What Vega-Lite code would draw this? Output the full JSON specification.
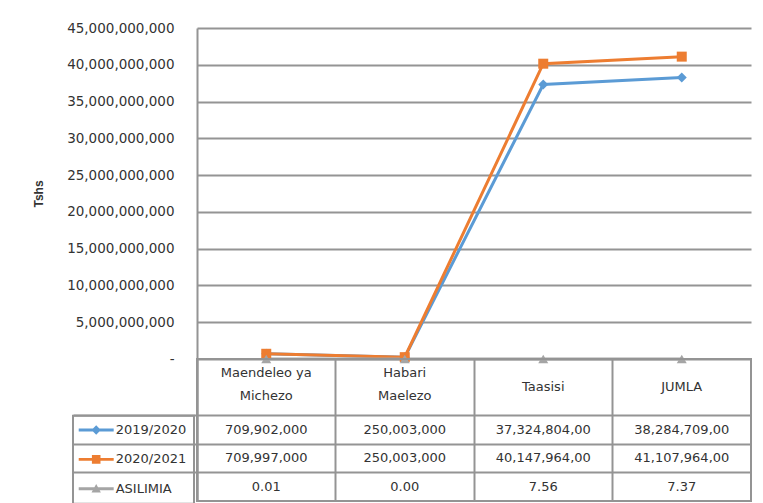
{
  "$schema": "https://vega.github.io/schema/vega-lite/v6.json",
  "padding": {"left": 32, "top": 21, "right": 10, "bottom": 2},
  "background": "white",
  "config": {
    "view": {"stroke": null},
    "font": "DejaVu Sans",
    "legend": {"strokeColor": "#949494", "strokeWidth": 2}
  },
  "datasets": {
    "values": [
      {"category": "Maendeleo ya Michezo", "series": "2019/2020", "value": 709902000, "label": "709,902,000"},
      {"category": "Habari Maelezo", "series": "2019/2020", "value": 250003000, "label": "250,003,000"},
      {"category": "Taasisi", "series": "2019/2020", "value": 37324804000, "label": "37,324,804,00"},
      {"category": "JUMLA", "series": "2019/2020", "value": 38284709000, "label": "38,284,709,00"},
      {"category": "Maendeleo ya Michezo", "series": "2020/2021", "value": 709997000, "label": "709,997,000"},
      {"category": "Habari Maelezo", "series": "2020/2021", "value": 250003000, "label": "250,003,000"},
      {"category": "Taasisi", "series": "2020/2021", "value": 40147964000, "label": "40,147,964,00"},
      {"category": "JUMLA", "series": "2020/2021", "value": 41107964000, "label": "41,107,964,00"},
      {"category": "Maendeleo ya Michezo", "series": "ASILIMIA", "value": 0.01, "label": "0.01"},
      {"category": "Habari Maelezo", "series": "ASILIMIA", "value": 0.0, "label": "0.00"},
      {"category": "Taasisi", "series": "ASILIMIA", "value": 7.56, "label": "7.56"},
      {"category": "JUMLA", "series": "ASILIMIA", "value": 7.37, "label": "7.37"}
    ],
    "headers": [
      {"category": "Maendeleo ya Michezo", "series": "header", "label": "Maendeleo ya\nMichezo"},
      {"category": "Habari Maelezo", "series": "header", "label": "Habari\nMaelezo"},
      {"category": "Taasisi", "series": "header", "label": "Taasisi"},
      {"category": "JUMLA", "series": "header", "label": "JUMLA"}
    ]
  },
  "spacing": 0,
  "bounds": "flush",
  "vconcat": [
    {
      "width": 554,
      "height": 331,
      "data": {"name": "values"},
      "layer": [
        {
          "mark": {"type": "line", "strokeWidth": 3},
          "encoding": {
            "x": {"field": "category", "type": "nominal", "sort": ["Maendeleo ya Michezo", "Habari Maelezo", "Taasisi", "JUMLA"], "scale": {"type": "point", "padding": 0.5}, "axis": null},
            "y": {
              "field": "value", "type": "quantitative",
              "scale": {"domain": [0, 45000000000], "nice": false, "zero": true},
              "axis": {
                "title": "Tshs", "titleFont": "Liberation Sans", "titleFontWeight": "bold", "titleFontSize": 12, "titlePadding": 21, "titleColor": "#333",
                "values": [0, 5000000000, 10000000000, 15000000000, 20000000000, 25000000000, 30000000000, 35000000000, 40000000000, 45000000000],
                "tickCount": 12,
                "labelExpr": "datum.value == 0 ? '-\u00a0\u00a0' : format(datum.value, ',')",
                "labelOverlap": false,
                "labelFont": "DejaVu Sans", "labelFontSize": 13.5, "labelColor": "#333", "labelPadding": 23,
                "ticks": false, "domain": true, "domainColor": "#949494", "domainWidth": 2,
                "grid": true, "gridColor": "#949494", "gridWidth": 2
              }
            },
            "color": {"field": "series", "type": "nominal", "scale": {"domain": ["2019/2020", "2020/2021", "ASILIMIA"], "range": ["#5B9BD5", "#ED7D31", "#A5A5A5"]}, "legend": null}
          }
        },
        {
          "mark": {"type": "point", "filled": true, "opacity": 1, "size": 100},
          "encoding": {
            "x": {"field": "category", "type": "nominal", "sort": ["Maendeleo ya Michezo", "Habari Maelezo", "Taasisi", "JUMLA"]},
            "y": {"field": "value", "type": "quantitative"},
            "color": {"field": "series", "type": "nominal", "legend": null},
            "shape": {"field": "series", "type": "nominal", "scale": {"domain": ["2019/2020", "2020/2021", "ASILIMIA"], "range": ["diamond", "square", "triangle-up"]}, "legend": null}
          }
        }
      ]
    },
    {
      "width": 554,
      "height": 142,
      "view": {"stroke": "#949494", "strokeWidth": 2},
      "layer": [
        {
          "data": {"name": "headers"},
          "transform": [{"filter": "indexof(datum.label, '\\n') >= 0"}],
          "mark": {"type": "text", "lineBreak": "\n", "lineHeight": 23, "font": "DejaVu Sans", "fontSize": 13, "color": "#333", "align": "center", "baseline": "middle"},
          "encoding": {
            "x": {
              "field": "category", "type": "nominal", "sort": ["Maendeleo ya Michezo", "Habari Maelezo", "Taasisi", "JUMLA"],
              "scale": {"type": "band", "paddingInner": 0, "paddingOuter": 0},
              "axis": {"bandPosition": 0, "grid": true, "gridColor": "#949494", "gridWidth": 2, "ticks": false, "labels": false, "domain": false, "title": null}
            },
            "y": {
              "field": "series", "type": "nominal",
              "scale": {"type": "band", "domain": ["header", "header-2", "2019/2020", "2020/2021", "ASILIMIA"], "paddingInner": 0, "paddingOuter": 0},
              "axis": {"values": ["2019/2020", "2020/2021", "ASILIMIA"], "bandPosition": 0, "grid": true, "gridColor": "#949494", "gridWidth": 2, "ticks": true, "tickSize": 124, "tickColor": "#949494", "tickWidth": 2, "labels": false, "domain": true, "domainColor": "#949494", "domainWidth": 2, "title": null}
            },
            "text": {"field": "label", "type": "nominal"}
          }
        },
        {
          "data": {"name": "headers"},
          "transform": [{"filter": "indexof(datum.label, '\\n') < 0"}],
          "mark": {"type": "text", "font": "DejaVu Sans", "fontSize": 13, "color": "#333", "align": "center", "baseline": "middle"},
          "encoding": {
            "x": {"field": "category", "type": "nominal", "sort": ["Maendeleo ya Michezo", "Habari Maelezo", "Taasisi", "JUMLA"]},
            "y": {"field": "series", "type": "nominal", "bandPosition": 1},
            "text": {"field": "label", "type": "nominal"}
          }
        },
        {
          "data": {"name": "values"},
          "mark": {"type": "text", "font": "DejaVu Sans", "fontSize": 13, "color": "#333", "align": "center", "baseline": "middle"},
          "encoding": {
            "x": {"field": "category", "type": "nominal", "sort": ["Maendeleo ya Michezo", "Habari Maelezo", "Taasisi", "JUMLA"]},
            "y": {"field": "series", "type": "nominal"},
            "text": {"field": "label", "type": "nominal"}
          }
        },
        {
          "data": {"name": "values"},
          "mark": {"type": "point", "filled": true, "opacity": 0},
          "encoding": {
            "x": {"field": "category", "type": "nominal", "sort": ["Maendeleo ya Michezo", "Habari Maelezo", "Taasisi", "JUMLA"]},
            "y": {"field": "series", "type": "nominal"},
            "color": {
              "field": "series", "type": "nominal",
              "scale": {"domain": ["2019/2020", "2020/2021", "ASILIMIA"], "range": ["#5B9BD5", "#ED7D31", "#A5A5A5"]},
              "legend": {"title": null, "orient": "none", "legendX": -124, "legendY": 56.8, "padding": 7.7, "rowPadding": 15.4, "symbolSize": 169, "symbolOffset": 9, "symbolStrokeWidth": 0, "symbolOpacity": 1, "labelOffset": 13, "labelFont": "DejaVu Sans", "labelFontSize": 13, "labelColor": "#333", "strokeColor": "#949494"}
            },
            "shape": {
              "field": "series", "type": "nominal",
              "scale": {"domain": ["2019/2020", "2020/2021", "ASILIMIA"], "range": ["M-2.69,-0.22H2.69V0.22H-2.69Z M0,-0.72L0.72,0L0,0.72L-0.72,0Z", "M-2.69,-0.22H2.69V0.22H-2.69Z M-0.66,-0.66H0.66V0.66H-0.66Z", "M-2.69,-0.22H2.69V0.22H-2.69Z M0,-0.72L0.72,0.58H-0.72Z"]},
              "legend": {"title": null, "orient": "none", "legendX": -124, "legendY": 56.8, "padding": 7.7, "rowPadding": 15.4, "symbolSize": 169, "symbolOffset": 9, "symbolStrokeWidth": 0, "symbolOpacity": 1, "labelOffset": 13, "labelFont": "DejaVu Sans", "labelFontSize": 13, "labelColor": "#333", "strokeColor": "#949494"}
            }
          }
        }
      ]
    }
  ],
  "resolve": {
    "scale": {"color": "independent", "shape": "independent"},
    "legend": {"color": "independent", "shape": "independent"}
  }
}
